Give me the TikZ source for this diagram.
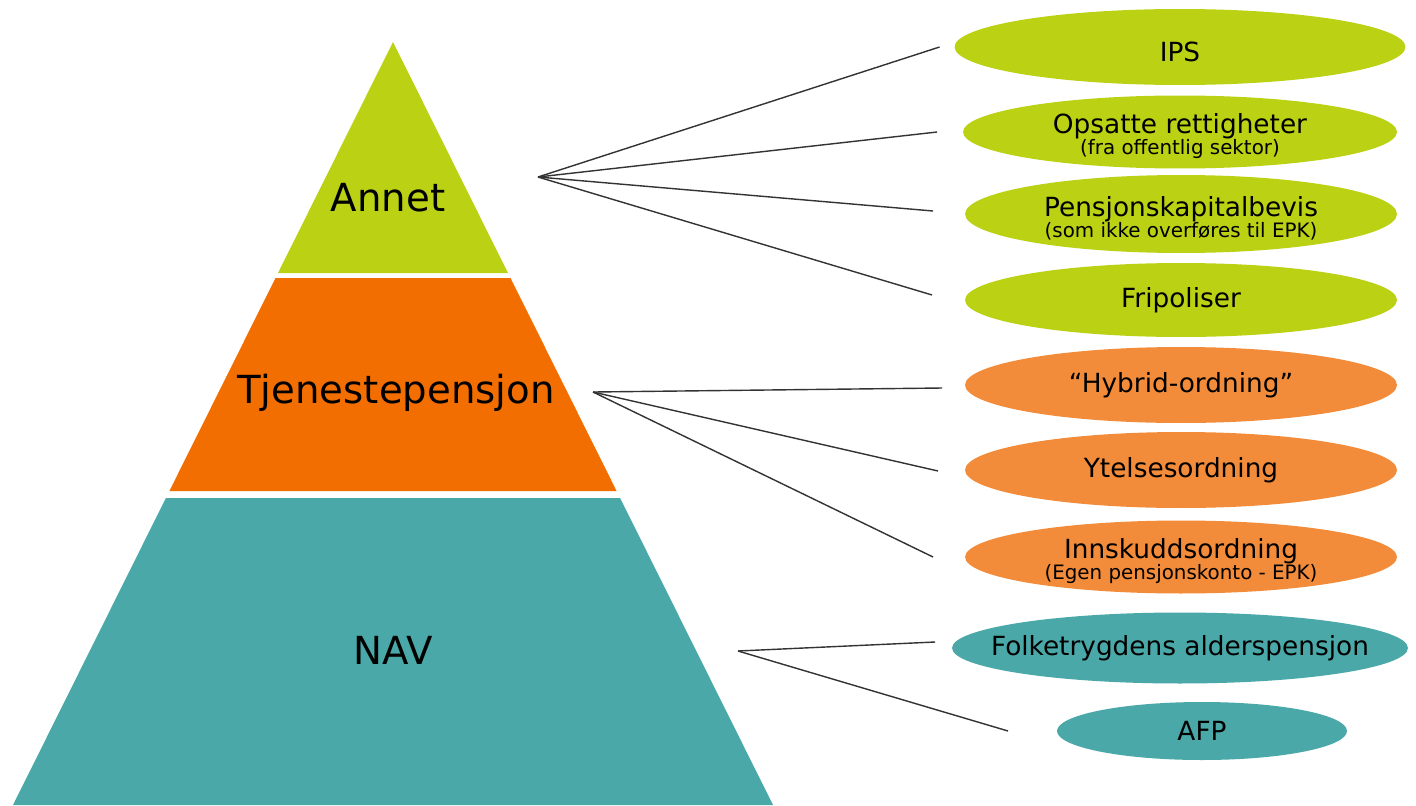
\documentclass[tikz,border=0pt]{standalone}
\usepackage{fontspec}
\setmainfont{DejaVu Sans}
\usepackage{tikz}
\usetikzlibrary{shapes.geometric}

\definecolor{lime}{RGB}{187,209,20}
\definecolor{pyrorange}{RGB}{243,110,0}
\definecolor{lightorange}{RGB}{243,140,58}
\definecolor{teal}{RGB}{74,168,168}

\newcommand{\subline}[1]{{\fontsize{11.3}{12}\selectfont #1}}

\tikzstyle{layer} = [font=\fontsize{22}{26}\selectfont, text=black]
\tikzstyle{lbl} = [align=center, 
font=\fontsize{15}{15}\selectfont, 
inner sep=0pt]
\tikzstyle{twolbl} = [lbl, yshift=-2.5pt]
\tikzstyle{pill} = [ellipse, 
inner sep=0pt, 
outer sep=0pt, 
minimum width=8.64cm, 
minimum height=1.5cm]
\tikzstyle{greenpill} = [pill, fill=lime]
\tikzstyle{orangepill} = [pill, fill=lightorange]
\tikzstyle{tealpill} = [pill, fill=teal]
\tikzstyle{link} = [line width=0.8pt, black!80]

\begin{document}
\begin{tikzpicture}[x=0.02cm, y=-0.02cm]
		\useasboundingbox (0,0) rectangle (1416,805);
		% pyramid
		\fill [lime] (393,42) -- (508,273) -- (278,273) -- cycle;
		\fill [pyrorange] (275.5,278) -- (510.5,278) -- (616.6,491) -- (169.4,491) -- cycle;
		\fill [teal] (165.9,498) -- (620.1,498) -- (773,805) -- (13,805) -- cycle;
		\node (annet) [layer] at (388,198) {Annet};
		\node (tjeneste) [layer] at (396,393) {Tjenestepensjon};
		\node (nav) [layer] at (393,650) {NAV};
		\coordinate (annetfan) at (538,177);
		\coordinate (tjenfan) at (593,392);
		\coordinate (navfan) at (738,651);
		
		\node (ips) [greenpill, minimum width=9.02cm, minimum height=1.52cm, label={[lbl, yshift=-3pt]center:IPS}] at (1180,47) {};
		\node (opsatte) [greenpill, minimum width=8.68cm, minimum height=1.46cm, label={[twolbl]center:Opsatte rettigheter\\[-3pt]\subline{(fra offentlig sektor)}}] at (1180,132) {};
		\node (pkb) [greenpill, minimum height=1.56cm, label={[twolbl]center:Pensjonskapitalbevis\\[-3pt]\subline{(som ikke overføres til EPK)}}] at (1181,214) {};
		\node (fripol) [greenpill, minimum height=1.48cm, label={[lbl]center:Fripoliser}] at (1181,300) {};
		\node (hybrid) [orangepill, minimum height=1.52cm, label={[lbl]center:“Hybrid-ordning”}] at (1181,385) {};
		\node (ytelse) [orangepill, minimum height=1.52cm, label={[lbl]center:Ytelsesordning}] at (1181,470) {};
		\node (innskudd) [orangepill, minimum height=1.46cm, label={[twolbl]center:Innskuddsordning\\[-3pt]\subline{(Egen pensjonskonto - EPK)}}] at (1181,557) {};
		\node (folke) [tealpill, minimum width=9.12cm, minimum height=1.42cm, label={[lbl]center:Folketrygdens alderspensjon}] at (1180,648) {};
		\node (afp) [tealpill, minimum width=5.8cm, minimum height=1.16cm, label={[lbl]center:AFP}] at (1202,731) {};
		
		\draw [link] (annetfan) -- ([xshift=-0.3cm]ips.west);
		\draw [link] (annetfan) -- ([xshift=-0.52cm]opsatte.west);
		\draw [link] (annetfan) -- ([xshift=-0.64cm, yshift=0.06cm]pkb.west);
		\draw [link] (annetfan) -- ([xshift=-0.66cm, yshift=0.1cm]fripol.west);
		\draw [link] (tjenfan) -- ([xshift=-0.46cm, yshift=-0.06cm]hybrid.west);
		\draw [link] (tjenfan) -- ([xshift=-0.54cm, yshift=-0.02cm]ytelse.west);
		\draw [link] (tjenfan) -- ([xshift=-0.64cm]innskudd.west);
		\draw [link] (navfan) -- ([xshift=-0.34cm, yshift=0.12cm]folke.west);
		\draw [link] (navfan) -- ([xshift=-0.98cm]afp.west);
	\end{tikzpicture}
\end{document}
